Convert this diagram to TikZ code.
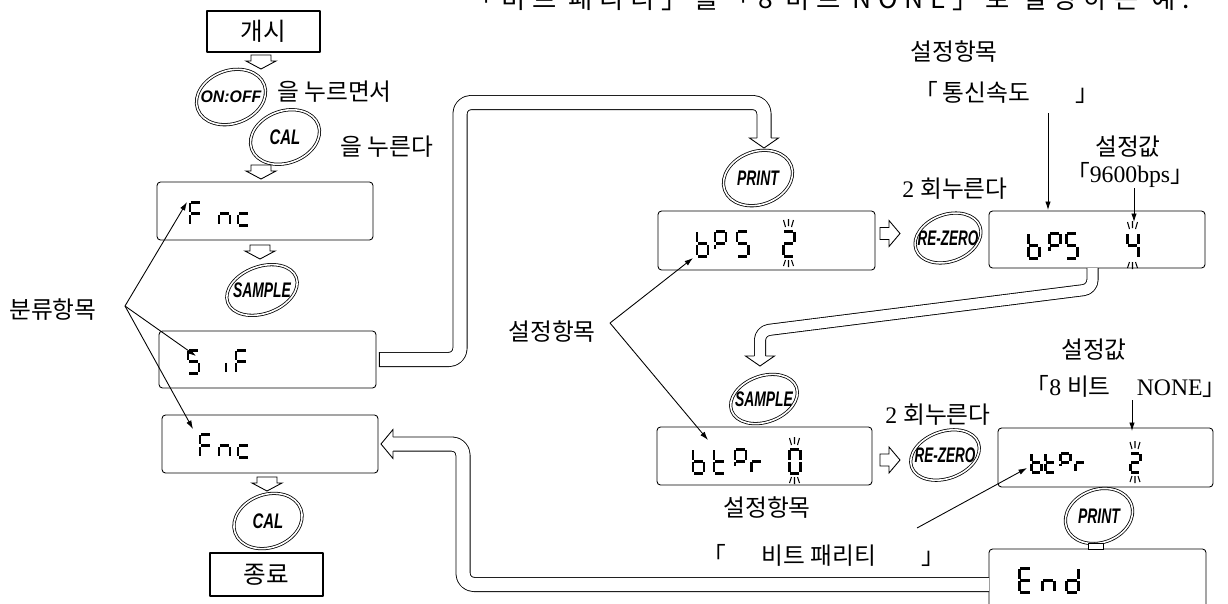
\documentclass[tikz,border=0pt]{standalone}
\usepackage{fontspec}
\usepackage{graphicx}
\usetikzlibrary{arrows.meta,calc}
\setmainfont{Liberation Serif}
\setsansfont{Liberation Sans}
\newfontfamily\kr{Noto Sans CJK KR}

% seven-segment glyphs: #1 x of left stroke, #2 y of bottom stroke, #3 lit segments (a-g, p = short stem)
\newcommand\segw{11}
\newcommand\segh{24}
\newcommand\seggap{1.3}
\makeatletter
\newcommand\lcdchar[3]{%
  \begin{scope}[shift={(#1,#2)}]
    \in@{a}{#3}\ifin@\draw[seg] (\seggap,-\segh) -- ({\segw-\seggap},-\segh);\fi
    \in@{b}{#3}\ifin@\draw[seg] (\segw,{-\segh+\seggap}) -- (\segw,{-\segh/2-\seggap});\fi
    \in@{c}{#3}\ifin@\draw[seg] (\segw,{-\segh/2+\seggap}) -- (\segw,-\seggap);\fi
    \in@{d}{#3}\ifin@\draw[seg] (\seggap,0) -- ({\segw-\seggap},0);\fi
    \in@{e}{#3}\ifin@\draw[seg] (0,{-\segh/2+\seggap}) -- (0,-\seggap);\fi
    \in@{f}{#3}\ifin@\draw[seg] (0,{-\segh+\seggap}) -- (0,{-\segh/2-\seggap});\fi
    \in@{g}{#3}\ifin@\draw[seg] (\seggap,-\segh/2) -- ({\segw-\seggap},-\segh/2);\fi
    \in@{p}{#3}\ifin@\draw[seg] (0,{-\segh/2+\seggap}) -- (0,{-\segh*0.3});\fi
  \end{scope}}
\makeatother
% flicker marks round a blinking digit: #1 centre x, #2 bottom y
\newcommand\blink[2]{%
  \begin{scope}[shift={(#1,#2)}]
    \draw[flick] (-5,{-\segh-11}) -- (-3,{-\segh-4})
                 (0,{-\segh-12}) -- (0,{-\segh-5})
                 (5,{-\segh-11}) -- (3,{-\segh-4})
                 (-3,4) -- (-5,10) (0,4) -- (0,11) (3,4) -- (5,10);
  \end{scope}}

\tikzset{
  seg/.style={line width=1.7pt, line cap=butt},
  flick/.style={line width=0.6pt},
  lcd/.style={draw, line width=0.5pt, rounded corners=0.07cm, outer sep=0pt, inner sep=0pt},
  plain/.style={draw, line width=0.6pt, outer sep=0pt, inner sep=0pt, font=\kr\fontsize{14}{16}\selectfont},
  lbl/.style={inner sep=0pt, font=\fontsize{13.5}{15}\selectfont},
  keytxt/.style={inner sep=0pt, font=\sffamily\bfseries\itshape\fontsize{12}{12}\selectfont},
  ring/.style={draw, line width=0.45pt, double=white, double distance=0.9pt},
  chan/.style={draw, line width=0.5pt, double=white, double distance=0.265cm, rounded corners=0.22cm},
  chanb/.style={chan, double distance=0.205cm, rounded corners=0.18cm},
  ann/.style={line width=0.5pt, -{Latex[length=1.7mm,width=1.1mm]}},
  blk/.style={draw, fill=white, line width=0.5pt, line join=miter},
  smalldown/.pic={\draw[blk] (-10,0) -- (10,0) -- (10,6) -- (15,6) -- (0,14) -- (-15,6) -- (-10,6) -- cycle;},
  smallright/.pic={\draw[blk] (0,-6) -- (9,-6) -- (9,-13) -- (20,0) -- (9,13) -- (9,6) -- (0,6) -- cycle;},
  headdown/.pic={\draw[blk] (-7,0) -- (-14.5,0) -- (0,10) -- (14.5,0) -- (7,0);},
  headdownb/.pic={\draw[blk] (-5.6,0) -- (-14.5,0) -- (0,10) -- (14.5,0) -- (5.6,0);},
  headleft/.pic={\draw[blk] (0,-7) -- (0,-14.5) -- (-12,0) -- (0,14.5) -- (0,7);},
}

\begin{document}
\begin{tikzpicture}[x=0.02cm, y=-0.02cm, line join=round]
\useasboundingbox (0,0) rectangle (1228,603);

% heading, running off the top edge
\node[anchor=base west, inner sep=0pt,
      font=\kr\fontsize{15}{17}\selectfont\addfontfeatures{LetterSpace=25}] (title)
  at (468,8) {「비트 패리티」를「8 비트 NONE」로 설정하는 예.};

% ---------- left column ----------
\node[plain, minimum width=2.26cm, minimum height=0.82cm] (start) at (263.5,31.5) {개시};
\pic at (261,55) {smalldown};

\node[keytxt, font=\sffamily\bfseries\itshape\fontsize{9.5}{10}\selectfont] (onoff) at (231,97) {\scalebox{0.95}[1]{ON:OFF}};
\draw[ring] (onoff.center) ellipse [x radius=0.71cm, y radius=0.53cm, rotate=20];
\node[lbl, anchor=west] (hold) at (277,92) {\kr 을 누르면서};

\node[keytxt] (cal1) at (285,137) {\scalebox{0.71}[1]{CAL}};
\draw[ring] (cal1.center) ellipse [x radius=0.71cm, y radius=0.52cm, rotate=20];
\node[lbl, anchor=west] (press) at (340,147) {\kr 을 누른다};
\pic at (261,165) {smalldown};

\node[lcd, minimum width=4.32cm, minimum height=1.16cm] (fnc1) at (265,211) {};
\def\segw{11}\def\segh{23}
\lcdchar{190}{225}{afeg}\lcdchar{219}{225}{ceg}\lcdchar{238}{225}{deg}
\pic at (260,245) {smalldown};

\node[keytxt] (sample1) at (262,290) {\scalebox{0.66}[1]{SAMPLE}};
\draw[ring] (sample1.center) ellipse [x radius=0.73cm, y radius=0.47cm, rotate=20];

\node[lcd, minimum width=4.34cm, minimum height=1.14cm] (sif) at (267.5,359.5) {};
\lcdchar{188}{373}{afgcd}\lcdchar{226}{373}{e}\lcdchar{236}{373}{afeg}

\node[lcd, minimum width=4.32cm, minimum height=1.16cm] (fnc2) at (270,444) {};
\lcdchar{200}{457}{afeg}\lcdchar{219}{457}{ceg}\lcdchar{238}{457}{deg}
\pic at (267,477) {smalldown};

\node[keytxt] (cal2) at (268,521) {\scalebox{0.71}[1]{CAL}};
\draw[ring] (cal2.center) ellipse [x radius=0.70cm, y radius=0.53cm, rotate=20];

\node[plain, minimum width=2.26cm, minimum height=0.86cm] (stop) at (266.5,574.5) {종료};

% group label and its pointers
\node[lbl] (cls) at (53,310) {\kr 분류항목};
\coordinate (clsapex) at (125,306);
\coordinate (fnc1pt) at (187,202);
\coordinate (sifpt) at (196,356);
\coordinate (fnc2pt) at (193,429);
\draw[ann] (clsapex) -- (fnc1pt);
\draw[ann] (clsapex) -- (sifpt);
\draw[ann] (clsapex) -- (fnc2pt);

% ---------- baud rate ----------
\node[keytxt] (print1) at (758,178) {\scalebox{0.66}[1]{PRINT}};
\draw[ring] (print1.center) ellipse [x radius=0.71cm, y radius=0.53cm, rotate=20];

\node[lcd, minimum width=4.34cm, minimum height=1.18cm] (bps2) at (766.5,240.5) {};
\def\segw{11}\def\segh{25}
\lcdchar{697}{256}{cdefg}\lcdchar{715}{256}{abfgp}\lcdchar{737}{256}{afgcd}
\lcdchar{783}{256}{abged}\blink{788.5}{256}

\pic at (880,233.5) {smallright};
\node[keytxt] (rezero1) at (948,238) {\scalebox{0.64}[1]{RE-ZERO}};
\draw[ring] (rezero1.center) ellipse [x radius=0.68cm, y radius=0.47cm, rotate=20];
\node[lbl] (twice1) at (955,189) {2 {\kr 회누른다}};

\node[lcd, minimum width=4.32cm, minimum height=1.14cm] (bps4) at (1097,239.5) {};
\lcdchar{1028}{258}{cdefg}\lcdchar{1049}{258}{abfgp}\lcdchar{1066}{258}{afgcd}
\lcdchar{1127}{258}{fgbc}\blink{1132.5}{258}

\node[lbl] (setitem1) at (954,52) {\kr 설정항목};
\node[lbl, anchor=west] (speed) at (914,92) {\kr 「\hspace{0.2em}통신속도\hspace{1.9em}」};
\node[lbl] (setval1) at (1128,147) {\kr 설정값};
\node[lbl] (baud) at (1130,175) {{\kr 「}9600bps{\kr 」}};
\coordinate (speedtail) at (1048,113);
\coordinate (speedtip) at (1048,210);
\coordinate (baudtail) at (1134,188);
\coordinate (baudtip) at (1134,222);
\draw[ann] (speedtail) -- (speedtip);
\draw[ann] (baudtail) -- (baudtip);

% ---------- parity ----------
\node[keytxt] (sample2) at (764,399) {\scalebox{0.66}[1]{SAMPLE}};
\draw[ring] (sample2.center) ellipse [x radius=0.69cm, y radius=0.46cm, rotate=20];

\node[lcd, minimum width=4.30cm, minimum height=1.16cm] (btpr0) at (764.5,456) {};
\def\segw{11}\def\segh{24}
\lcdchar{693}{473}{cdefg}\lcdchar{714}{473}{defg}\lcdchar{735}{473}{abfgp}\lcdchar{751}{473}{eg}
\lcdchar{789}{473}{abcdef}\blink{794.5}{473}

\node[lbl] (setitem3) at (767,508) {\kr 설정항목};
\node[lbl, anchor=west] (parity) at (702,555) {\kr 「\hspace{1.5em}비트 패리티\hspace{1.9em}」};

\pic at (880,460) {smallright};
\node[keytxt] (rezero2) at (945,455) {\scalebox{0.64}[1]{RE-ZERO}};
\draw[ring] (rezero2.center) ellipse [x radius=0.71cm, y radius=0.47cm, rotate=20];
\node[lbl] (twice2) at (938,415) {2 {\kr 회누른다}};

\node[lcd, minimum width=4.30cm, minimum height=1.18cm] (btpr2) at (1105.5,457.5) {};
\def\segw{10}\def\segh{19}
\lcdchar{1031}{472}{cdefg}\lcdchar{1045}{472}{defg}\lcdchar{1060}{472}{abfgp}\lcdchar{1075}{472}{eg}
\lcdchar{1130}{472}{abged}\blink{1135}{472}

\node[lbl] (setval2) at (1094,350) {\kr 설정값};
\node[lbl] (none) at (1126,386) {{\kr 「}8 {\kr 비트}\hspace{1.1em}NONE{\kr 」}};
\coordinate (nonetail) at (1132,400);
\coordinate (nonetip) at (1132,431);
\draw[ann] (nonetail) -- (nonetip);
\coordinate (paritytail) at (917,528);
\coordinate (paritytip) at (1027,468);
\draw[ann] (paritytail) -- (paritytip);

% item label pointing at both item names
\node[lbl] (setitem2) at (552,332) {\kr 설정항목};
\coordinate (itemapex) at (610,323);
\coordinate (bps2pt) at (693,258);
\coordinate (btpr0pt) at (708,440);
\draw[ann] (itemapex) -- (bps2pt);
\draw[ann] (itemapex) -- (btpr0pt);

% ---------- end ----------
\node[keytxt] (print2) at (1099,516) {\scalebox{0.66}[1]{PRINT}};
\draw[ring] (print2.center) ellipse [x radius=0.69cm, y radius=0.53cm, rotate=20];
\node[lcd, minimum width=4.34cm, minimum height=1.42cm] (endbox) at (1097.5,584.5) {};
\draw[blk] (1088,543) rectangle (1103,549);
\def\segw{12}\def\segh{24}
\lcdchar{1019}{592}{afged}\lcdchar{1042}{592}{ceg}\lcdchar{1066}{592}{bcdeg}

% ---------- hollow flow channels ----------
\draw[chan] ([xshift=0.06cm]sif.east) -| (460,102.5) -| (764,138);
\draw[line width=0.5pt] ([xshift=0.06cm]sif.east) ++(0,-7.5) -- ++(0,15);
\pic at (764,138) {headdown};

\draw[chanb] ([xshift=-0.09cm]bps4.south) -- (1092.5,289) -- (760,331) -- (760,356);
\pic at (760,356) {headdownb};

\draw[chan] (endbox.west) -- (463,584.5) -- (463,444) -- (393,444);
\pic at (393,444) {headleft};
\end{tikzpicture}
\end{document}
